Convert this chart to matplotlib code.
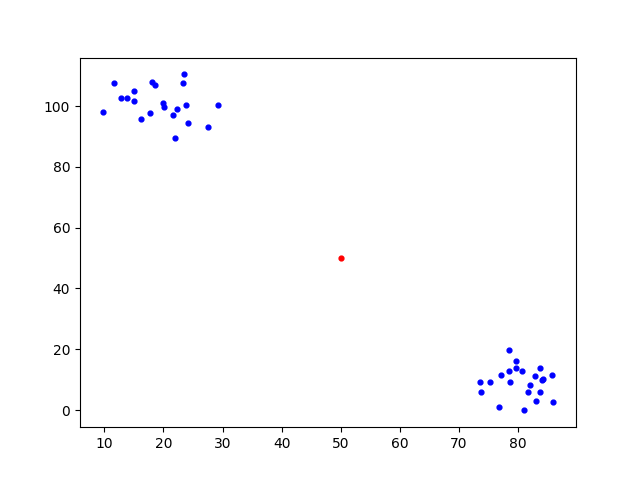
import numpy as np
import matplotlib
matplotlib.use('Agg')
import matplotlib.pyplot as plt

# cluster near top-left
x1 = [11.6, 23.4, 18.1, 18.5, 23.3, 15.0, 12.9, 13.9, 15.0, 19.9, 20.1,
      23.8, 29.2, 22.3, 9.7, 17.8, 21.7, 16.2, 24.1, 27.5, 22.0]
y1 = [107.5, 110.4, 107.8, 106.9, 107.5, 104.9, 102.5, 102.5, 101.6, 100.9, 99.8,
      100.2, 100.2, 98.9, 97.9, 97.6, 96.9, 95.7, 94.3, 93.0, 89.5]

# cluster near bottom-right
x2 = [78.5, 79.7, 79.7, 78.4, 80.6, 83.8, 85.8, 77.2, 82.8, 84.3, 84.1,
      73.6, 75.3, 78.7, 82.1, 73.8, 81.7, 83.8, 83.1, 86.0, 76.8, 81.1]
y2 = [19.6, 16.0, 14.0, 12.7, 12.7, 13.7, 11.7, 11.4, 11.1, 10.1, 9.8,
      9.4, 9.1, 9.1, 8.4, 5.8, 5.8, 6.1, 2.9, 2.5, 0.9, -0.1]

# centre point
cx = [50]
cy = [50]

fig, ax = plt.subplots(figsize=(6.4, 4.8), dpi=100)
ax.scatter(x1 + x2, y1 + y2, c='b', s=12)
ax.scatter(cx, cy, c='r', s=12)
plt.savefig('out.png')
